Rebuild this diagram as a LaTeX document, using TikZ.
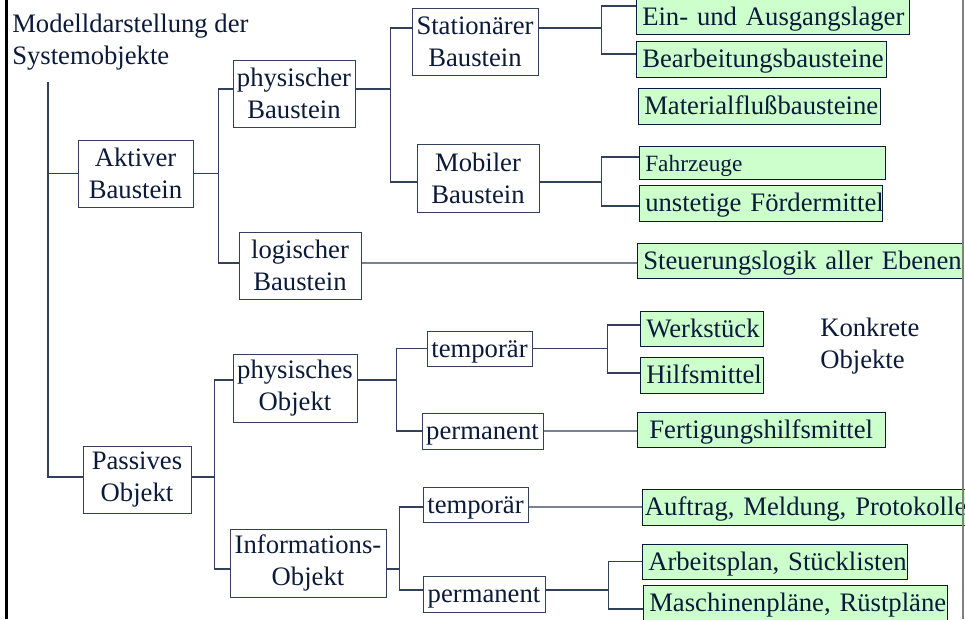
\documentclass[tikz,border=0pt]{standalone}
\usepackage{fontspec}
\setmainfont{Liberation Serif}
\usepackage{tikz}
\definecolor{inkblue}{RGB}{12,26,58}
\definecolor{linegray}{RGB}{50,64,90}
\definecolor{leafgreen}{RGB}{204,255,204}
\tikzset{
  heading/.style={
      text=inkblue,
      align=left,
      anchor=north west,
      inner sep=0pt,
      font=\fontsize{20}{24}\selectfont
  },
  block/.style={
      draw=linegray,
      fill=white,
      rectangle,
      text=inkblue,
      align=center,
      inner xsep=2pt,
      minimum height=50.25pt,
      font=\fontsize{20}{24}\selectfont
  },
  flat/.style={
      block,
      minimum height=26.25pt,
      text height=13.2pt,
      text depth=0pt
  },
  leaf/.style={
      draw=inkblue,
      fill=leafgreen,
      rectangle,
      anchor=west,
      text=inkblue,
      align=left,
      inner xsep=4.5pt,
      minimum height=26.25pt,
      text height=13.2pt,
      text depth=0pt,
      font=\fontsize{20}{24}\selectfont,
      execute at begin node=\hbox\bgroup,
      execute at end node=\egroup
  },
  link/.style={draw=linegray, line width=1pt}
}
\begin{document}
\begin{tikzpicture}[x=0.75pt, y=-0.75pt]
      \path[use as bounding box, fill=white] (0,0) rectangle (965,619);

      % Frame lines
      \draw[black, line width=2.25pt] (6.5,0) -- (6.5,619);

      % Title
      \node[heading] (title) at (12,13.6) {Modelldarstellung der\\Systemobjekte};
      \coordinate (root) at (48,82);

      % Active part
      \node[block, minimum width=86.25pt] (aktiv) at (135.5,173.5) {Aktiver\\Baustein};
      \node[block, minimum width=91.5pt] (physB) at (294,93.5) {physischer\\Baustein};
      \node[block, minimum width=91.5pt] (logB) at (300,265.5) {logischer\\Baustein};
      \node[block, minimum width=94.5pt] (stat) at (475,41.5) {Stationärer\\Baustein};
      \node[block, minimum width=91.5pt, minimum height=51pt] (mobil) at (478,178) {Mobiler\\Baustein};

      \node[leaf, text width=195.75pt] (ein) at (636,16.5) {Ein- und Ausgangslager};
      \node[leaf, text width=178.5pt, minimum height=27pt] (bearb) at (636,59) {Bearbeitungsbausteine};
      \node[leaf, text width=172.5pt, minimum height=27pt] (mat) at (638,106) {Materialflußbausteine};
      \node[leaf, text width=175.5pt, minimum height=24.75pt, font=\fontsize{17.5}{21}\selectfont] (fahr) at (639,162.5) {Fahrzeuge};
      \node[leaf, text width=173.25pt, minimum height=27pt] (unst) at (639,203) {unstetige Fördermittel};
      \node[leaf, text width=235.5pt] (steu) at (637,260.5) {Steuerungslogik aller Ebenen};

      % Passive part
      \node[block, minimum width=81pt] (passiv) at (137,479.5) {Passives\\Objekt};
      \node[block, minimum width=93pt, minimum height=51pt] (physO) at (295,388) {physisches\\Objekt};
      \node[block, minimum width=117pt, minimum height=51pt] (infoO) at (308,563) {Informations-\\Objekt};
      \node[flat, minimum width=78.75pt] (temp1) at (479.5,348.5) {temporär};
      \node[flat, minimum width=90.75pt, minimum height=27pt] (perm1) at (482.5,431) {permanent};
      \node[flat, minimum width=78.75pt] (temp2) at (475.5,504.5) {temporär};
      \node[flat, minimum width=91.5pt, minimum height=27pt] (perm2) at (484,594) {permanent};

      \node[leaf, text width=83.25pt] (werk) at (640,328.5) {Werkstück};
      \node[leaf, text width=83.25pt, minimum height=27pt] (hilf) at (640,375) {Hilfsmittel};
      \node[block, fill=leafgreen, draw=inkblue, anchor=west, minimum width=186pt,
            minimum height=26.25pt, text height=13.2pt, text depth=0pt] (fert) at (637,429.5) {Fertigungshilfsmittel};
      \node[leaf, inner xsep=2pt, text width=243.5pt, minimum height=27pt] (auft) at (642,507) {Auftrag, Meldung, Protokolle};
      \node[leaf, text width=189.75pt] (arbe) at (642,561.5) {Arbeitsplan, Stücklisten};
      \node[leaf, text width=219pt, minimum height=27pt] (masc) at (643,603) {Maschinenpläne, Rüstpläne};

      \node[heading] (konkret) at (820,318) {Konkrete\\Objekte};

      % Connections
      \draw[link] (root) |- (aktiv.west);
      \draw[link] (root) |- ([yshift=1.9pt]passiv.west);

      \draw[link] (aktiv.east) -- ++(25,0) coordinate (kA);
      \draw[link] ([yshift=3.4pt]physB.west) -| (kA) |- ([yshift=1.9pt]logB.west);
      \draw[link] ([yshift=3.4pt]physB.east) -- ++(35.5,0) coordinate (kP);
      \draw[link] ([yshift=10.1pt]stat.west) -| (kP) |- ([yshift=-3pt]mobil.west);
      \draw[link] ([yshift=10.1pt]stat.east) -- ++(63,0) coordinate (kS);
      \draw[link] ([yshift=7.9pt]ein.west) -| (kS) |- ([yshift=3.75pt]bearb.west);
      \draw[link] ([yshift=-3pt]mobil.east) -- ++(62,0) coordinate (kM);
      \draw[link] ([yshift=4.1pt]fahr.west) -| (kM) |- ([yshift=-2.25pt]unst.west);
      \draw[link] ([yshift=1.9pt]logB.east) -- ([yshift=-1.9pt]steu.west);

      \draw[link] ([yshift=1.9pt]passiv.east) -- ++(23,0) coordinate (kB);
      \draw[link] ([yshift=6pt]physO.west) -| (kB) |- ([yshift=-4.5pt]infoO.west);
      \draw[link] ([yshift=6pt]physO.east) -- ++(39,0) coordinate (kO);
      \draw[link] (temp1.west) -| (kO) |- (perm1.west);
      \draw[link] (temp1.east) -- ++(75,0) coordinate (kT);
      \draw[link] ([yshift=2.6pt]werk.west) -| (kT) |- ([yshift=1.5pt]hilf.west);
      \draw[link] (perm1.east) -- ([yshift=-1.1pt]fert.west);
      \draw[link] ([yshift=-4.5pt]infoO.east) -- ++(13,0) coordinate (kI);
      \draw[link] ([yshift=-1.9pt]temp2.west) -| (kI) |- ([yshift=3pt]perm2.west);
      \draw[link] ([yshift=-1.9pt]temp2.east) -- (auft.west);
      \draw[link] ([yshift=3pt]perm2.east) -- ++(63,0) coordinate (kR);
      \draw[link] (arbe.west) -| (kR) |- ([yshift=-4.5pt]masc.west);

      \draw[gray, line width=0.8pt] (963,0) -- (963,619);
\end{tikzpicture}
\end{document}
